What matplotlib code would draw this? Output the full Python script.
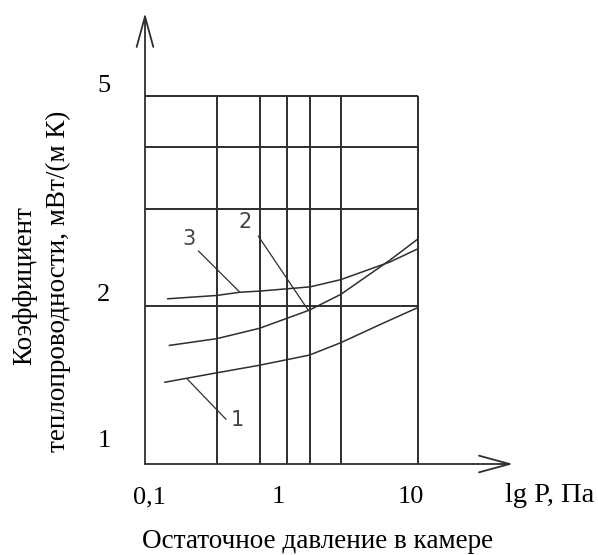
import matplotlib
matplotlib.use("Agg")
import matplotlib.pyplot as plt

plt.rcParams['font.family'] = ['Liberation Serif', 'DejaVu Serif']

# pressure, Pa (log axis) and conductivity, mW/(m K) (log axis)
p_3 = [0.147, 0.335, 0.497, 0.688, 1.62, 2.72, 6.24, 9.88]
k_3 = [2.06, 2.09, 2.12, 2.13, 2.17, 2.24, 2.42, 2.56]

p_2 = [0.151, 0.335, 0.688, 1.60, 2.72, 6.24, 9.88]
k_2 = [1.68, 1.73, 1.81, 1.96, 2.10, 2.44, 2.67]

p_1 = [0.140, 0.335, 0.688, 1.60, 2.72, 5.27, 9.88]
k_1 = [1.43, 1.49, 1.54, 1.61, 1.70, 1.84, 1.98]

grid_p = [0.335, 0.696, 1.10, 1.62, 2.73, 10]
grid_k = [2, 3.05, 4, 5]

xtick_vals = [0.1, 1, 10]
xtick_labels = ["0,1", "1", "10"]
ytick_vals = [1, 2, 5]
ytick_labels = ["1", "2", "5"]

C = "#2e2e2e"

fig = plt.figure(figsize=(5.98, 5.55), dpi=100)
W, H = 598, 555
ax = fig.add_axes([145 / W, (H - 464) / H, (513 - 145) / W, (464 - 13) / H])
ax.set_xscale("log")
ax.set_yscale("log")
ax.set_xlim(0.1, 49.7)
ax.set_ylim(1, 7.19)
ax.axis("off")

# grid box
ax.vlines(grid_p, 1, 5, color=C, lw=1.4)
ax.hlines(grid_k, 0.1, 10, color=C, lw=1.4)

# axes with open arrows
arr = dict(arrowstyle="->,head_length=2.2,head_width=0.6", lw=1.3, color=C,
           shrinkA=0, shrinkB=0, mutation_scale=10)
ax.annotate("", xy=(0.1, 7.19), xytext=(0.1, 1), arrowprops=arr, annotation_clip=False)
ax.annotate("", xy=(49.7, 1), xytext=(0.1, 1), arrowprops=arr, annotation_clip=False)

# curves
for p, k in [(p_1, k_1), (p_2, k_2), (p_3, k_3)]:
    ax.plot(p, k, color=C, lw=1.1)

# tick labels (drawn slightly offset, as in the original sketch)
xoffs = [4, -3, -7]
for v, lab, dx in zip(xtick_vals, xtick_labels, xoffs):
    ax.annotate(lab, xy=(v, 1), xytext=(dx, -33), textcoords="offset pixels",
                ha="center", va="center", fontsize=19, annotation_clip=False)
yoffs = [23, 11, 10]
for v, lab, dy in zip(ytick_vals, ytick_labels, yoffs):
    ax.annotate(lab, xy=(0.1, v), xytext=(-41, dy), textcoords="offset pixels",
                ha="center", va="center", fontsize=19, annotation_clip=False)

fig.text(550 / W, 1 - 496 / H, "lg P, Па", ha="center", va="center", fontsize=20.5)
fig.text(318 / W, 1 - 541 / H, "Остаточное давление в камере",
         ha="center", va="center", fontsize=19.5)
fig.text(25 / W, 1 - 286 / H, "Коэффициент", rotation=90,
         ha="center", va="center", fontsize=19.5)
fig.text(58 / W, 1 - 281 / H, "теплопроводности, мВт/(м К)", rotation=90,
         ha="center", va="center", fontsize=19.5)

# curve numbers with leader lines
lead = dict(arrowstyle="-", lw=0.9, color=C, shrinkA=0, shrinkB=0)
num_font = dict(family="DejaVu Sans", fontsize=15, color="#444444",
                ha="center", va="center")
ax.text(0.210, 2.68, "3", **num_font)
ax.annotate("", xy=(0.491, 2.125), xytext=(0.246, 2.54), arrowprops=lead)
ax.text(0.540, 2.88, "2", **num_font)
ax.annotate("", xy=(1.57, 1.96), xytext=(0.676, 2.71), arrowprops=lead)
ax.text(0.472, 1.21, "1", **num_font)
ax.annotate("", xy=(0.392, 1.216), xytext=(0.204, 1.45), arrowprops=lead)

fig.savefig("out.png", dpi=100)
